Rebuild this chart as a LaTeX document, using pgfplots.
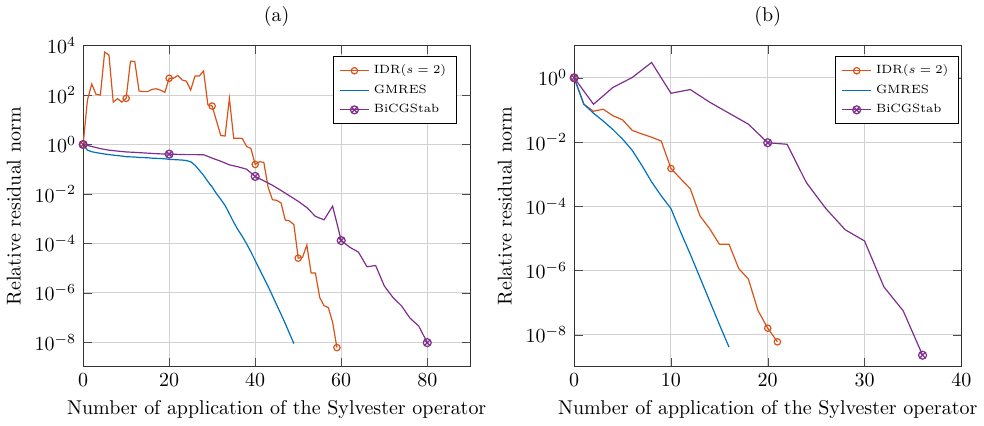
\documentclass[border=0pt]{standalone}
\usepackage{pgfplots}
\pgfplotsset{compat=1.18}
\definecolor{cidr}{RGB}{217,83,25}
\definecolor{cgm}{RGB}{0,114,189}
\definecolor{cbi}{RGB}{126,47,142}
\begin{document}
\begin{tikzpicture}
\begin{axis}[scale only axis, width=193.85pt, height=160.8pt,
    ymode=log, ymax=1e4, ymin=1e-9, xmin=0,
    grid=major, major grid style={gray!35, line width=0.5pt},
    tick style={black!70},
    axis line style={black!80},
    xlabel={Number of application of the Sylvester operator},
    ylabel={Relative residual norm},
    legend image code/.code={\draw[#1, mark indices={2}] plot coordinates {(0cm,0cm) (0.26cm,0cm) (0.52cm,0cm)};},
    legend style={font=\fontsize{6}{7}\selectfont, cells={anchor=west}, draw=black, line width=0.5pt, at={(0.965,0.967)}, anchor=north east},
    title={(a)}, xmax=90, xtick={0,20,40,60,80},
  ytick={1e-8,1e-6,1e-4,1e-2,1,1e2,1e4}]
\addplot[cidr, line width=0.6pt, mark=o, mark size=1.6pt, mark indices={1,11,21,31,41,51,60}] coordinates {
(0,1)(1,63)(2,280)(3,107)(4,100)(5,5500)(6,4200)(7,52)(8,72)(9,52)
(10,74)(11,2350)(12,2300)(13,146)(14,138)(15,138)(16,170)(17,180)(18,158)(19,130)
(20,480)(21,480)(22,620)(23,410)(24,365)(25,160)(26,590)(27,590)(28,950)(29,40)
(30,36)(31,9)(32,2.3)(33,2.2)(34,74)(35,1.8)(36,1.8)(37,1.75)(38,0.83)(39,0.69)
(40,0.155)(41,0.2)(42,0.19)(43,0.019)(44,0.0058)(45,0.0055)(46,0.0043)(47,8.7e-4)(48,8e-4)(49,5.7e-4)
(50,2.5e-5)(51,2.7e-5)(52,8.5e-5)(53,6.3e-6)(54,6.3e-6)(55,6.4e-7)(56,3e-7)(57,2.5e-7)(58,6.3e-8)(59,6e-9)};
\addlegendentry{IDR($s=2$)}
\addplot[cgm, line width=0.6pt, no marks] coordinates {
(0,1)(1,0.59)(2,0.51)(3,0.47)(4,0.44)(5,0.41)(6,0.39)(7,0.37)(8,0.355)(9,0.34)
(10,0.32)(11,0.316)(12,0.31)(13,0.30)(14,0.295)(15,0.29)(16,0.28)(17,0.275)(18,0.27)(19,0.263)
(20,0.25)(21,0.245)(22,0.24)(23,0.234)(24,0.224)(25,0.2)(26,0.145)(27,0.091)(28,0.056)(29,0.0316)
(30,0.019)(31,0.0102)(32,0.006)(33,0.0034)(34,0.00158)(35,7.1e-4)(36,3.5e-4)(37,1.9e-4)(38,9.5e-5)(39,4.5e-5)
(40,2e-5)(41,8.9e-6)(42,4e-6)(43,1.8e-6)(44,7.6e-7)(45,3.2e-7)(46,1.35e-7)(47,5.6e-8)(48,2.2e-8)(49,8.7e-9)};
\addlegendentry{GMRES}
\addplot[cbi, line width=0.6pt, mark=otimes, mark size=2pt, mark indices={1,11,21,31,41}] coordinates {
(0,1)(2,0.83)(4,0.68)(6,0.59)(8,0.54)(10,0.5)(12,0.48)(14,0.457)(16,0.436)(18,0.417)
(20,0.407)(22,0.398)(24,0.389)(26,0.389)(28,0.385)(30,0.28)(32,0.21)(34,0.15)(36,0.125)(38,0.1)
(40,0.051)(42,0.034)(44,0.0224)(46,0.0138)(48,0.0083)(50,0.005)(52,0.0028)(54,0.00123)(56,8.9e-4)(58,0.0032)
(60,1.29e-4)(62,6.9e-5)(64,4.4e-5)(66,1.12e-5)(68,1.26e-5)(70,1.9e-6)(72,6.5e-7)(74,2.95e-7)(76,9.3e-8)(78,4.5e-8)
(80,9.5e-9)};
\addlegendentry{BiCGStab}
\end{axis}
\begin{axis}[scale only axis, width=193.85pt, height=160.8pt, at={(245.85pt,0)},
    ymode=log, ymax=10, ymin=1e-9, xmin=0, xmax=40,
    grid=major, major grid style={gray!35, line width=0.5pt},
    tick style={black!70},
    axis line style={black!80},
    xlabel={Number of application of the Sylvester operator},
    ylabel={Relative residual norm},
    legend image code/.code={\draw[#1, mark indices={2}] plot coordinates {(0cm,0cm) (0.26cm,0cm) (0.52cm,0cm)};},
    legend style={font=\fontsize{6}{7}\selectfont, cells={anchor=west}, draw=black, line width=0.5pt, at={(0.994,0.967)}, anchor=north east},
    title={(b)}, xtick={0,10,20,30,40},
  ytick={1e-8,1e-6,1e-4,1e-2,1}]
\addplot[cidr, line width=0.6pt, mark=o, mark size=1.6pt, mark indices={1,11,21,22}] coordinates {
(0,1)(1,0.15)(2,0.091)(3,0.105)(4,0.066)(5,0.049)(6,0.023)(7,0.0178)(8,0.0141)(9,0.0107)
(10,0.0015)(11,7.2e-4)(12,3.5e-4)(13,5e-5)(14,2e-5)(15,6.6e-6)(16,6.6e-6)(17,1.15e-6)(18,5.4e-7)(19,5.6e-8)
(20,1.6e-8)(21,6e-9)};
\addlegendentry{IDR($s=2$)}
\addplot[cgm, line width=0.6pt, no marks] coordinates {
(0,1)(1,0.15)(2,0.079)(3,0.045)(4,0.0245)(5,0.0123)(6,0.0055)(7,0.00186)(8,5.75e-4)(9,2.1e-4)
(10,8.5e-5)(11,1.58e-5)(12,3.2e-6)(13,6e-7)(14,1.12e-7)(15,2.1e-8)(16,4.1e-9)};
\addlegendentry{GMRES}
\addplot[cbi, line width=0.6pt, mark=otimes, mark size=2pt, mark indices={1,11,19}] coordinates {
(0,1)(2,0.15)(4,0.5)(6,1.02)(8,3.0)(10,0.33)(12,0.43)(14,0.174)(16,0.079)(18,0.036)
(20,0.0095)(22,0.0085)(24,5.4e-4)(26,8.5e-5)(28,1.86e-5)(30,8.3e-6)(32,3.1e-7)(34,5.5e-8)(36,2.3e-9)};
\addlegendentry{BiCGStab}
\end{axis}
\end{tikzpicture}
\end{document}
